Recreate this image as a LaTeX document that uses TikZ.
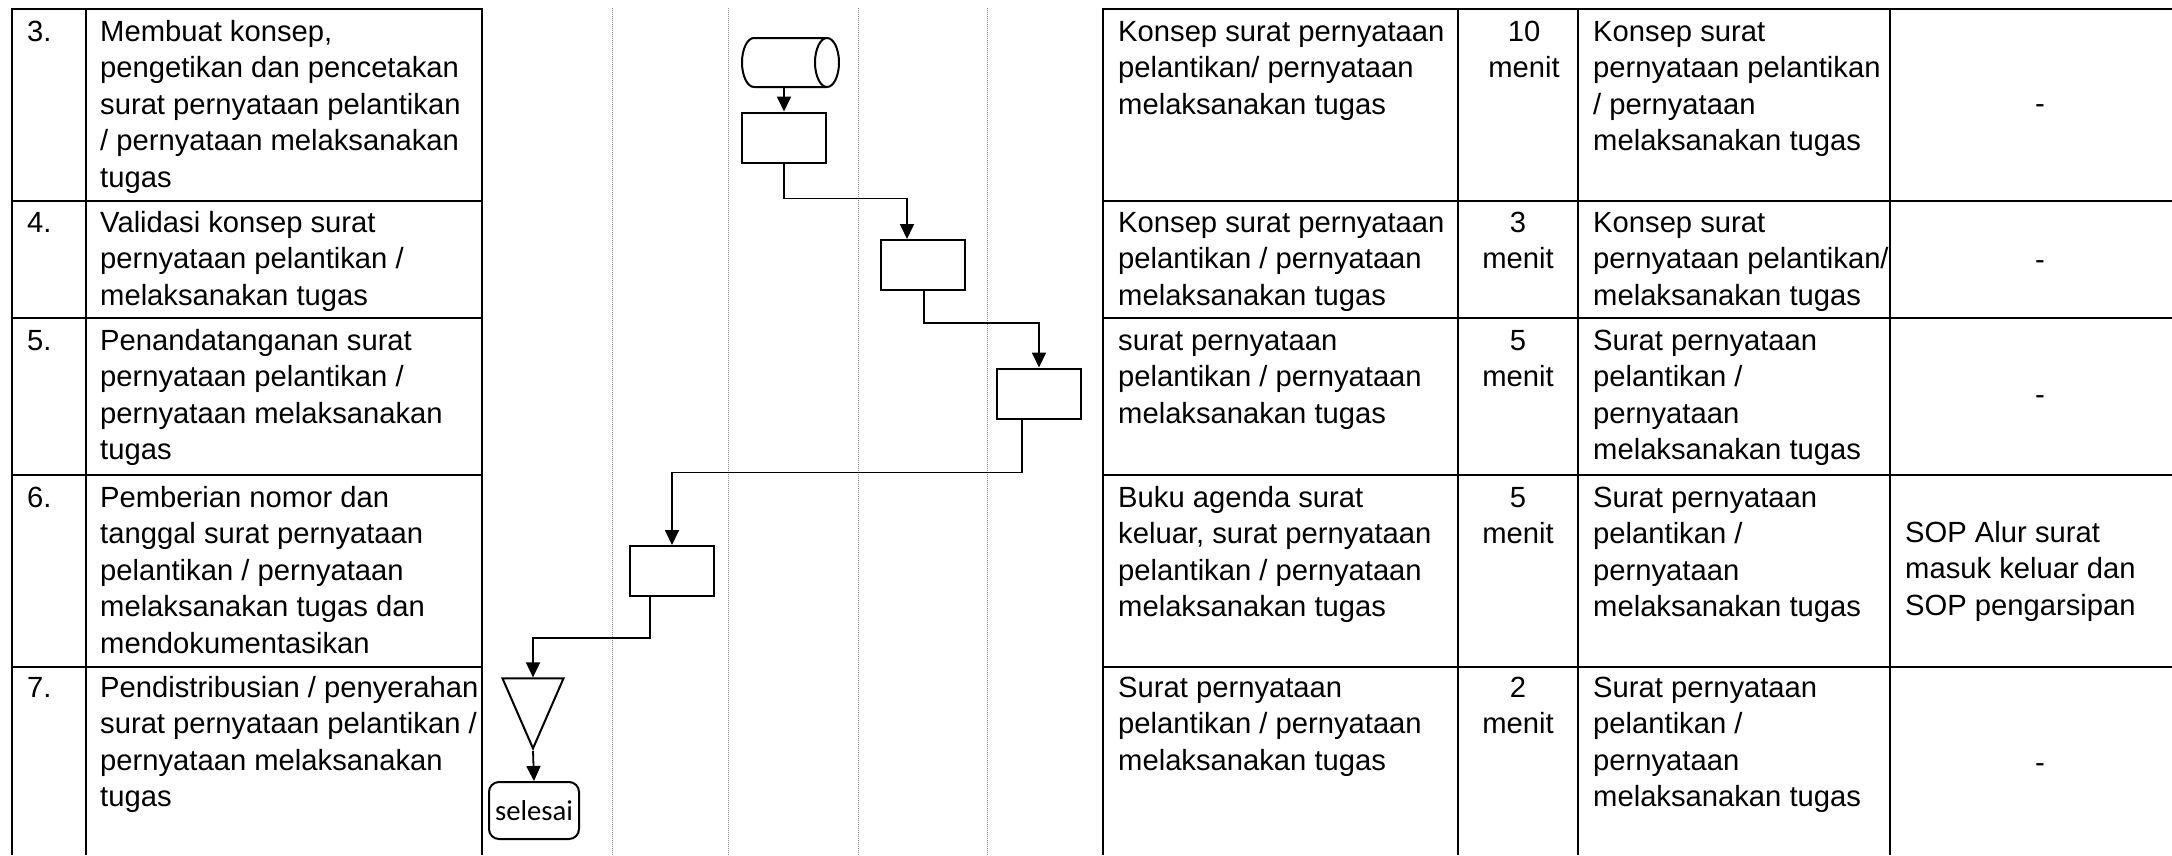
\documentclass[tikz,border=0pt]{standalone}
\usepackage{fontspec}
\setmainfont{Liberation Sans}
\newfontfamily\calibrifont{Carlito}
\usetikzlibrary{arrows.meta,shapes.geometric}
\definecolor{LaneGrey}{HTML}{8A8A8A}
\newcommand{\celltext}{\fontsize{29.2}{36.6}\selectfont}
\tikzset{
  cell/.style={anchor=north west,inner sep=0pt,align=left,font=\celltext},
  midcell/.style={anchor=north,inner sep=0pt,align=center,font=\celltext},
  dashcell/.style={inner sep=0pt,font=\celltext},
  grid/.style={line width=2.6pt,line join=miter},
  lane/.style={draw=LaneGrey,line width=1pt,densely dotted},
  proc/.style={draw,line width=2pt,minimum width=84pt,minimum height=50pt,inner sep=0pt},
  flow/.style={line width=1.8pt,-{Triangle[length=15pt,width=14pt]}},
  drum/.style={line width=2pt},
  drumend/.style={x radius=12pt,y radius=24.5pt}
}

\begin{document}
\begin{tikzpicture}[x=1pt,y=-1pt]
    \useasboundingbox (0,0) rectangle (2172,855);

    \draw[grid] (12,855) -- (12,9) -- (482,9) -- (482,855);
    \draw[grid] (86,9) -- (86,855);
    \draw[grid] (12,201) -- (482,201) (12,318) -- (482,318)
                (12,475) -- (482,475) (12,667) -- (482,667);
    \draw[grid] (1103,855) -- (1103,9) -- (2172,9);
    \draw[grid] (1458,9) -- (1458,855) (1578,9) -- (1578,855) (1890,9) -- (1890,855);
    \draw[grid] (1103,201) -- (2172,201) (1103,318) -- (2172,318)
                (1103,475) -- (2172,475) (1103,667) -- (2172,667);

    \draw[lane] (612,8) -- (612,855);
    \draw[lane] (728,8) -- (728,855);
    \draw[lane] (858,8) -- (858,855);
    \draw[lane] (987,8) -- (987,855);

    \node[cell] (no3) at (27,15.3) {\strut 3.};
    \node[cell] (act3) at (100,15.3) {\strut Membuat konsep,\\pengetikan dan pencetakan\\surat pernyataan pelantikan\\/ pernyataan melaksanakan\\tugas};
    \node[cell] (kel3) at (1118,15.3) {\strut Konsep surat pernyataan\\pelantikan/ pernyataan\\melaksanakan tugas};
    \node[midcell] (wkt3) at (1524,15.3) {\strut 10\\menit};
    \node[cell] (out3) at (1593,15.3) {\strut Konsep surat\\pernyataan pelantikan\\/ pernyataan\\melaksanakan tugas};
    \node[dashcell] (ket3) at (2040,109) {-};

    \node[cell] (no4) at (27,206.5) {\strut 4.};
    \node[cell] (act4) at (100,206.5) {\strut Validasi konsep surat\\pernyataan pelantikan /\\melaksanakan tugas};
    \node[cell] (kel4) at (1118,206.5) {\strut Konsep surat pernyataan\\pelantikan / pernyataan\\melaksanakan tugas};
    \node[midcell] (wkt4) at (1518,206.5) {\strut 3\\menit};
    \node[cell] (out4) at (1593,206.5) {\strut Konsep surat\\pernyataan pelantikan/\\melaksanakan tugas};
    \node[dashcell] (ket4) at (2040,265) {-};

    \node[cell] (no5) at (27,324.3) {\strut 5.};
    \node[cell] (act5) at (100,324.3) {\strut Penandatanganan surat\\pernyataan pelantikan /\\pernyataan melaksanakan\\tugas};
    \node[cell] (kel5) at (1118,324.3) {\strut surat pernyataan\\pelantikan / pernyataan\\melaksanakan tugas};
    \node[midcell] (wkt5) at (1518,324.3) {\strut 5\\menit};
    \node[cell] (out5) at (1593,324.3) {\strut Surat pernyataan\\pelantikan /\\pernyataan\\melaksanakan tugas};
    \node[dashcell] (ket5) at (2040,400) {-};

    \node[cell] (no6) at (27,481.3) {\strut 6.};
    \node[cell] (act6) at (100,481.3) {\strut Pemberian nomor dan\\tanggal surat pernyataan\\pelantikan / pernyataan\\melaksanakan tugas dan\\mendokumentasikan};
    \node[cell] (kel6) at (1118,481.3) {\strut Buku agenda surat\\keluar, surat pernyataan\\pelantikan / pernyataan\\melaksanakan tugas};
    \node[midcell] (wkt6) at (1518,481.3) {\strut 5\\menit};
    \node[cell] (out6) at (1593,481.3) {\strut Surat pernyataan\\pelantikan /\\pernyataan\\melaksanakan tugas};
    \node[cell] (ket6) at (1905,516.3) {\strut SOP Alur surat\\masuk keluar dan\\SOP pengarsipan};

    \node[cell] (no7) at (27,671.3) {\strut 7.};
    \node[cell] (act7) at (100,671.3) {\strut Pendistribusian / penyerahan\\surat pernyataan pelantikan /\\pernyataan melaksanakan\\tugas};
    \node[cell] (kel7) at (1118,671.3) {\strut Surat pernyataan\\pelantikan / pernyataan\\melaksanakan tugas};
    \node[midcell] (wkt7) at (1518,671.3) {\strut 2\\menit};
    \node[cell] (out7) at (1593,671.3) {\strut Surat pernyataan\\pelantikan /\\pernyataan\\melaksanakan tugas};
    \node[dashcell] (ket7) at (2040,768) {-};

    \node[minimum width=97pt,minimum height=49pt,inner sep=0pt,outer sep=0pt] (arsip) at (790.5,62.5) {};
    \draw[drum] ([xshift=-12pt]arsip.north east) -- ([xshift=12pt]arsip.north west)
        arc[start angle=90,end angle=270,drumend] -- ([xshift=-12pt]arsip.south east)
        arc[start angle=-90,end angle=90,drumend] arc[start angle=90,end angle=270,drumend];
    \node[proc] (konsep) at (784,137.5) {};
    \node[proc] (validasi) at (922.5,265) {};
    \node[proc] (ttd) at (1039,393.5) {};
    \node[proc] (nomor) at (672,571) {};
    \node[isosceles triangle,isosceles triangle stretches,shape border rotate=270,draw,line width=2pt,
          minimum width=61pt,minimum height=70pt,inner sep=0pt,anchor=apex] (kirim) at (533,751) {};
    \node[draw,line width=2pt,rounded corners=10pt,minimum width=90pt,minimum height=57pt,inner sep=0pt,
          font=\calibrifont\fontsize{28.7}{34}\selectfont] (selesai) at (534,810.5) {selesai};

    \draw[flow] (konsep.north |- arsip.south) -- (konsep.north);
    \draw[flow] (konsep.south) -- ++(0,35) -| ([xshift=-15.5pt]validasi.north);
    \draw[flow] ([xshift=1.5pt]validasi.south) -- ++(0,32) -| (ttd.north);
    \draw[flow] ([xshift=-17pt]ttd.south) -- ++(0,53) -| (nomor.north);
    \draw[flow] ([xshift=-22pt]nomor.south) -- ++(0,41) -| (kirim.lower side);
    \draw[flow] (kirim.apex) -- (selesai.north);
\end{tikzpicture}
\end{document}
